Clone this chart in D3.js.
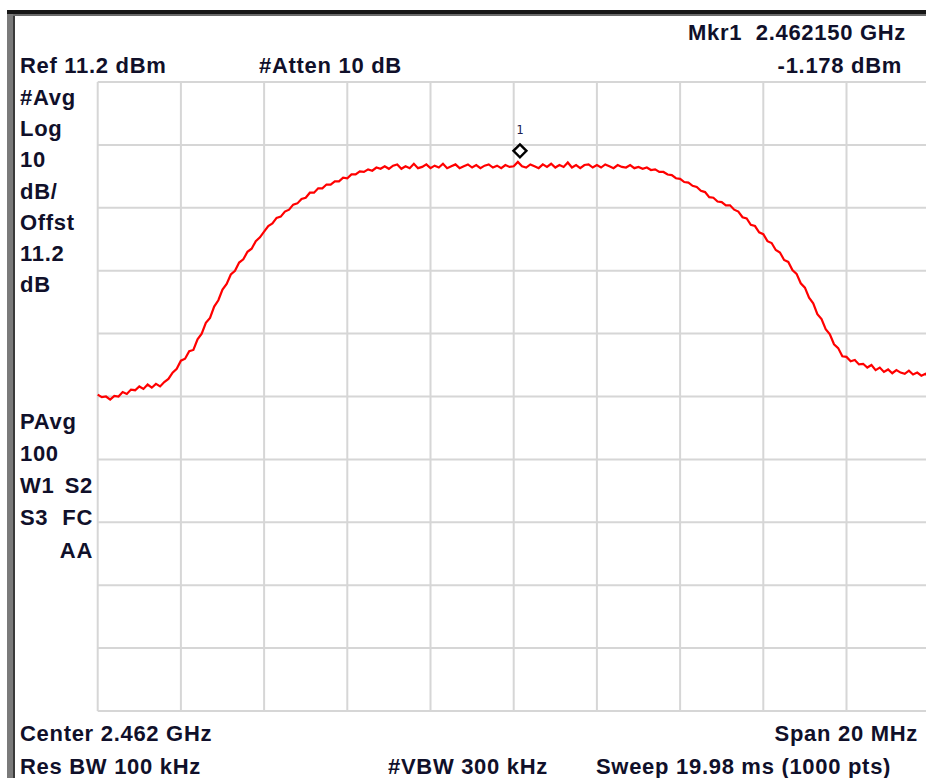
<!DOCTYPE html>
<html>
<head>
<meta charset="utf-8">
<script src="https://cdn.jsdelivr.net/npm/d3@7"></script>
<style>
  html, body { margin: 0; padding: 0; background: #ffffff; }
  svg { display: block; }
  text { font-family: "Liberation Sans", Arial, sans-serif; font-weight: bold; fill: #10102a; white-space: pre; }
</style>
</head>
<body>
<svg id="chart" width="926" height="778"></svg>
<script>
// ---------------- data ----------------
const centerGHz = 2.462;
const spanGHz = 0.020;
const refLevelDbm = 11.2;
const dbPerDiv = 10;
const sweepStepGHz = 0.0001;           // trace sample spacing (0.1 MHz)

// trace level (dBm) from 2.452 GHz to 2.472 GHz, every 0.1 MHz
const traceDbm = [
  -38.5, -38.9, -38.8, -39.3, -38.7, -38.8, -38.1, -38.4, -37.7, -37.8,
  -37.2, -37.6, -36.9, -37.4, -36.8, -37.2, -36.5, -36.0, -35.0, -34.4,
  -33.1, -32.8, -31.6, -31.4, -29.7, -28.8, -27.1, -26.3, -24.5, -23.5,
  -21.8, -20.9, -19.4, -18.8, -17.5, -17.0, -15.8, -15.3, -14.1, -13.5,
  -12.6, -11.7, -11.3, -10.4, -10.2, -9.4, -9.1, -8.3, -8.1, -7.4,
  -7.2, -6.4, -6.4, -5.7, -5.7, -5.1, -5.1, -4.6, -4.6, -4.0,
  -4.1, -3.5, -3.5, -3.0, -3.1, -2.7, -2.9, -2.4, -2.6, -2.2,
  -2.6, -2.1, -1.9, -2.6, -2.2, -2.5, -1.8, -2.5, -2.3, -1.9,
  -2.5, -2.1, -2.4, -1.8, -2.5, -2.2, -1.9, -2.5, -2.2, -1.9,
  -2.4, -2.0, -2.5, -2.1, -1.9, -2.4, -2.1, -2.5, -2.0, -2.3,
  -2.2, -1.5, -2.2, -2.4, -1.9, -2.2, -2.5, -1.9, -2.3, -1.8,
  -2.4, -2.0, -2.3, -1.6, -2.4, -2.0, -2.5, -2.0, -1.9, -2.4,
  -2.0, -2.4, -1.9, -2.2, -2.5, -2.0, -2.3, -2.4, -2.0, -2.5,
  -2.3, -2.6, -2.4, -2.8, -2.7, -3.1, -3.1, -3.5, -3.6, -4.1,
  -4.2, -4.7, -4.8, -5.3, -5.5, -6.1, -6.3, -7.1, -7.2, -7.8,
  -7.9, -8.4, -8.4, -9.1, -9.4, -10.3, -10.5, -11.5, -11.7, -12.7,
  -13.0, -14.1, -14.4, -15.5, -15.9, -17.1, -17.4, -18.7, -19.3, -20.8,
  -21.5, -23.1, -24.0, -25.7, -26.5, -28.1, -28.9, -30.5, -31.1, -32.4,
  -32.5, -33.2, -33.0, -33.7, -33.6, -34.2, -33.8, -34.6, -34.2, -34.9,
  -34.5, -35.1, -34.6, -35.0, -35.2, -34.7, -35.3, -35.0, -35.5, -35.2,
  -35.6
];

const markerGHz = [2.462150];
const markerDbm = [-1.178];
const markerLabels = ["1"];

const xGridDivisions = [0, 1, 2, 3, 4, 5, 6, 7, 8, 9, 10];
const yGridDivisions = [0, 1, 2, 3, 4, 5, 6, 7, 8, 9, 10];

const headerLabels = ["Mkr1  2.462150 GHz", "Ref 11.2 dBm", "#Atten 10 dB", "-1.178 dBm"];
const leftLabelsTop = ["#Avg", "Log", "10", "dB/", "Offst", "11.2", "dB"];
const leftLabelsBottom = ["PAvg", "100"];
const leftPairs = [["W1", "S2"], ["S3", "FC"], ["", "AA"]];
const footerLabels = ["Center 2.462 GHz", "Span 20 MHz", "Res BW 100 kHz", "#VBW 300 kHz", "Sweep 19.98 ms (1000 pts)"];

// ---------------- drawing ----------------
const svg = d3.select("#chart");
const W = 926, H = 778;

const plot = { left: 97.7, right: 929.7, top: 82, bottom: 711 };
const startGHz = centerGHz - spanGHz / 2, stopGHz = centerGHz + spanGHz / 2;
const x = d3.scaleLinear().domain([startGHz, stopGHz]).range([plot.left, plot.right]);
const y = d3.scaleLinear().domain([refLevelDbm - 10 * dbPerDiv, refLevelDbm]).range([plot.bottom, plot.top]);

// window frame
svg.append("rect").attr("x", 0).attr("y", 0).attr("width", W).attr("height", H).attr("fill", "#ffffff");
svg.append("rect").attr("x", 7).attr("y", 10).attr("width", 6).attr("height", H - 10).attr("fill", "#7a7a7a");
svg.append("rect").attr("x", 13).attr("y", 12).attr("width", 2).attr("height", H - 12).attr("fill", "#3a3a3a");
svg.append("rect").attr("x", 7).attr("y", 10).attr("width", W - 7).attr("height", 4).attr("fill", "#161616");
svg.append("rect").attr("x", 13).attr("y", 14).attr("width", W - 13).attr("height", 2).attr("fill", "#6a6a6a");

// grid
const g = svg.append("g");
const xGridVals = xGridDivisions.map(d => startGHz + d * spanGHz / 10);
const yGridVals = yGridDivisions.map(d => refLevelDbm - d * dbPerDiv);
g.selectAll("line.v").data(xGridVals).join("line")
  .attr("x1", d => x(d)).attr("x2", d => x(d))
  .attr("y1", y(yGridVals[0])).attr("y2", y(yGridVals[yGridVals.length - 1]))
  .attr("stroke", "#d6d6d6").attr("stroke-width", 2);
g.selectAll("line.h").data(yGridVals).join("line")
  .attr("x1", x(startGHz)).attr("x2", x(stopGHz))
  .attr("y1", d => y(d)).attr("y2", d => y(d))
  .attr("stroke", "#d6d6d6").attr("stroke-width", 2);

// trace
const trace = traceDbm.map((v, i) => ({ f: startGHz + i * sweepStepGHz, v }));
const line = d3.line().x(d => x(d.f)).y(d => y(d.v));
svg.append("path").datum(trace)
  .attr("d", line)
  .attr("fill", "none").attr("stroke", "#ff0000").attr("stroke-width", 2.2)
  .attr("stroke-linejoin", "miter");

// marker
markerGHz.forEach((f, i) => {
  const mx = x(f), my = y(markerDbm[i]) - 9;
  const r = 6.5;
  svg.append("path")
    .attr("d", `M${mx},${my - r}L${mx + r},${my}L${mx},${my + r}L${mx - r},${my}Z`)
    .attr("fill", "#ffffff").attr("stroke", "#000000").attr("stroke-width", 2.4);
  svg.append("text").attr("x", mx).attr("y", my - 17)
    .attr("text-anchor", "middle")
    .style("font-family", "'DejaVu Sans Mono', monospace").style("font-size", "12px").style("font-weight", "normal")
    .style("fill", "#202050")
    .text(markerLabels[i]);
});

// labels
const fs = "22px";
function label(txt, tx, ty, anchor) {
  svg.append("text").attr("x", tx).attr("y", ty).attr("text-anchor", anchor || "start")
    .style("font-size", fs).style("letter-spacing", "0.7px").text(txt);
}
label(headerLabels[0], 906, 40, "end");
label(headerLabels[1], 20, 73);
label(headerLabels[2], 259, 73);
label(headerLabels[3], 902, 73, "end");

leftLabelsTop.forEach((t, i) => label(t, 20, 105 + i * 31.2));
leftLabelsBottom.forEach((t, i) => label(t, 20, 429 + i * 32.3));
leftPairs.forEach((p, i) => {
  const by = 493 + i * 32.3;
  if (p[0]) label(p[0], 20, by);
  label(p[1], 93, by, "end");
});

label(footerLabels[0], 20, 741);
label(footerLabels[1], 918, 741, "end");
label(footerLabels[2], 20, 774);
label(footerLabels[3], 388, 774);
label(footerLabels[4], 596, 774);
</script>
</body>
</html>
